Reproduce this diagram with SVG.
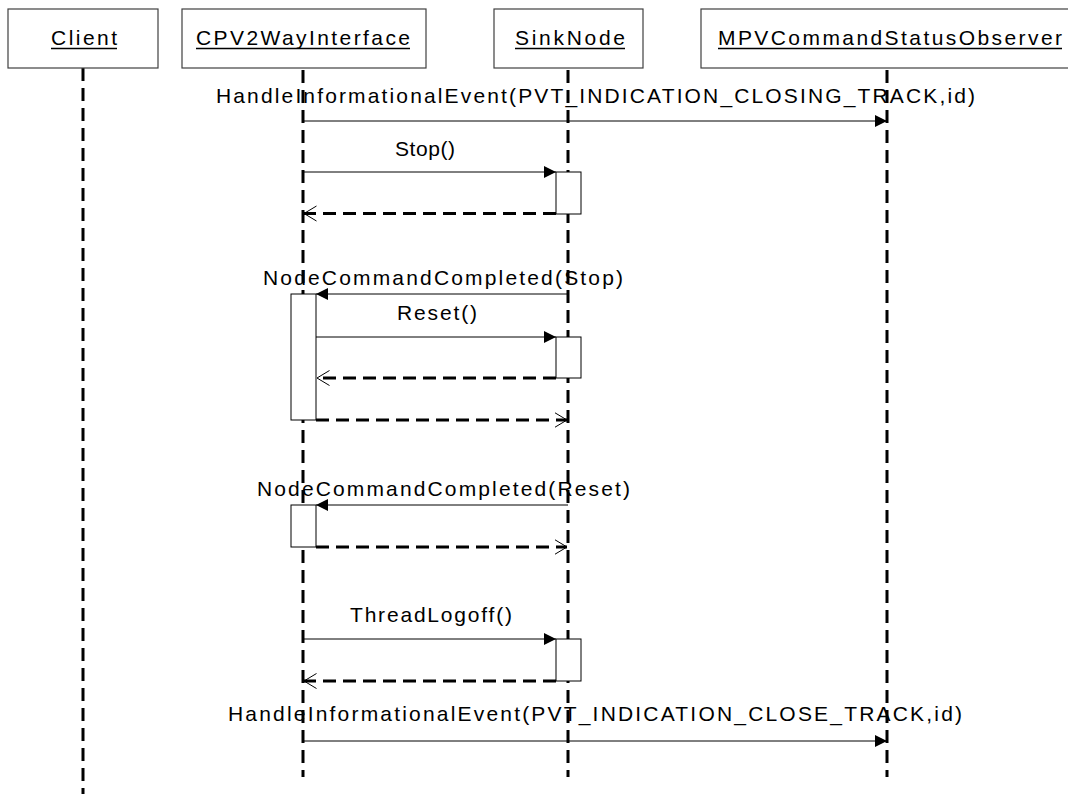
<svg xmlns="http://www.w3.org/2000/svg" width="1068" height="794" viewBox="0 0 1068 794">
<defs>
<style>
.hdr{fill:#fff;stroke:#404040;stroke-width:1.2}
.ht{font-family:"Liberation Sans",Arial,sans-serif;font-size:21px;fill:#000}
.ul{stroke:#000;stroke-width:1.3}
.t{font-family:"Liberation Sans",Arial,sans-serif;font-size:21px;fill:#000}
.life{stroke:#000;stroke-width:3;stroke-dasharray:13 7;fill:none}
.act{fill:#fff;stroke:#000;stroke-width:1}
.call{stroke:#000;stroke-width:1;fill:none;marker-end:url(#filled)}
.ret{stroke:#000;stroke-width:3;stroke-dasharray:13 7;fill:none;marker-end:url(#open)}
</style>
<marker id="filled" markerUnits="userSpaceOnUse" markerWidth="13" markerHeight="13" refX="12" refY="6" orient="auto">
<path d="M0,0 L12,6 L0,12 Z" fill="#000" stroke="none"/>
</marker>
<marker id="open" markerUnits="userSpaceOnUse" markerWidth="14" markerHeight="18" refX="12.5" refY="8" orient="auto">
<path d="M0,0.5 L12.5,8 L0,15.5" fill="none" stroke="#000" stroke-width="1" stroke-dasharray="none"/>
</marker>
</defs>
<rect width="1068" height="794" fill="#fff"/>

<g id="lifelines">
<line class="life" x1="83" y1="68" x2="83" y2="794"/>
<line class="life" x1="303" y1="70" x2="303" y2="777"/>
<line class="life" x1="568" y1="70" x2="568" y2="777"/>
<line class="life" x1="887" y1="70" x2="887" y2="777"/>
</g>

<g id="client">
<rect class="hdr" x="8" y="9" width="150" height="59"/>
<text class="ht" x="51" y="45" textLength="66" lengthAdjust="spacing">Client</text>
<line class="ul" x1="51" y1="48.5" x2="117" y2="48.5"/>
</g>
<g id="cpv2wayinterface">
<rect class="hdr" x="182" y="9" width="244" height="59"/>
<text class="ht" x="196" y="45" textLength="214" lengthAdjust="spacing">CPV2WayInterface</text>
<line class="ul" x1="196" y1="48.5" x2="410" y2="48.5"/>
</g>
<g id="sinknode">
<rect class="hdr" x="494" y="9" width="149" height="59"/>
<text class="ht" x="515" y="45" textLength="110" lengthAdjust="spacing">SinkNode</text>
<line class="ul" x1="515" y1="48.5" x2="625" y2="48.5"/>
</g>
<g id="mpvcommandstatusobserver">
<rect class="hdr" x="701" y="9" width="380" height="59"/>
<text class="ht" x="718" y="45" textLength="344" lengthAdjust="spacing">MPVCommandStatusObserver</text>
<line class="ul" x1="718" y1="48.5" x2="1062" y2="48.5"/>
</g>

<g id="activations">
<rect class="act" x="556" y="172" width="25" height="42"/>
<rect class="act" x="291" y="294" width="25" height="126"/>
<rect class="act" x="556" y="337" width="25" height="41"/>
<rect class="act" x="291" y="505" width="25" height="42"/>
<rect class="act" x="556" y="639" width="25" height="42"/>
</g>

<g id="connectors">
<line class="call" x1="303" y1="121" x2="887" y2="121"/>
<line class="call" x1="303" y1="172" x2="556" y2="172"/>
<line class="ret" x1="556" y1="213.5" x2="304" y2="213.5"/>
<line class="call" x1="568" y1="294" x2="316" y2="294"/>
<line class="call" x1="316" y1="337" x2="556" y2="337"/>
<line class="ret" x1="556" y1="378" x2="317" y2="378"/>
<line class="ret" x1="316" y1="420" x2="567" y2="420"/>
<line class="call" x1="568" y1="505" x2="316" y2="505"/>
<line class="ret" x1="316" y1="547" x2="567" y2="547"/>
<line class="call" x1="303" y1="639" x2="556" y2="639"/>
<line class="ret" x1="556" y1="681" x2="304" y2="681"/>
<line class="call" x1="303" y1="741" x2="887" y2="741"/>
</g>

<g id="labels">
<text class="t" x="216" y="103" textLength="759" lengthAdjust="spacing">HandleInformationalEvent(PVT_INDICATION_CLOSING_TRACK,id)</text>
<text class="t" x="395" y="156" textLength="60" lengthAdjust="spacing">Stop()</text>
<text class="t" x="263" y="285" textLength="360" lengthAdjust="spacing">NodeCommandCompleted(Stop)</text>
<text class="t" x="397" y="320" textLength="80" lengthAdjust="spacing">Reset()</text>
<text class="t" x="257" y="496" textLength="373" lengthAdjust="spacing">NodeCommandCompleted(Reset)</text>
<text class="t" x="350" y="622" textLength="162" lengthAdjust="spacing">ThreadLogoff()</text>
<text class="t" x="228" y="721" textLength="734" lengthAdjust="spacing">HandleInformationalEvent(PVT_INDICATION_CLOSE_TRACK,id)</text>
</g>
</svg>
